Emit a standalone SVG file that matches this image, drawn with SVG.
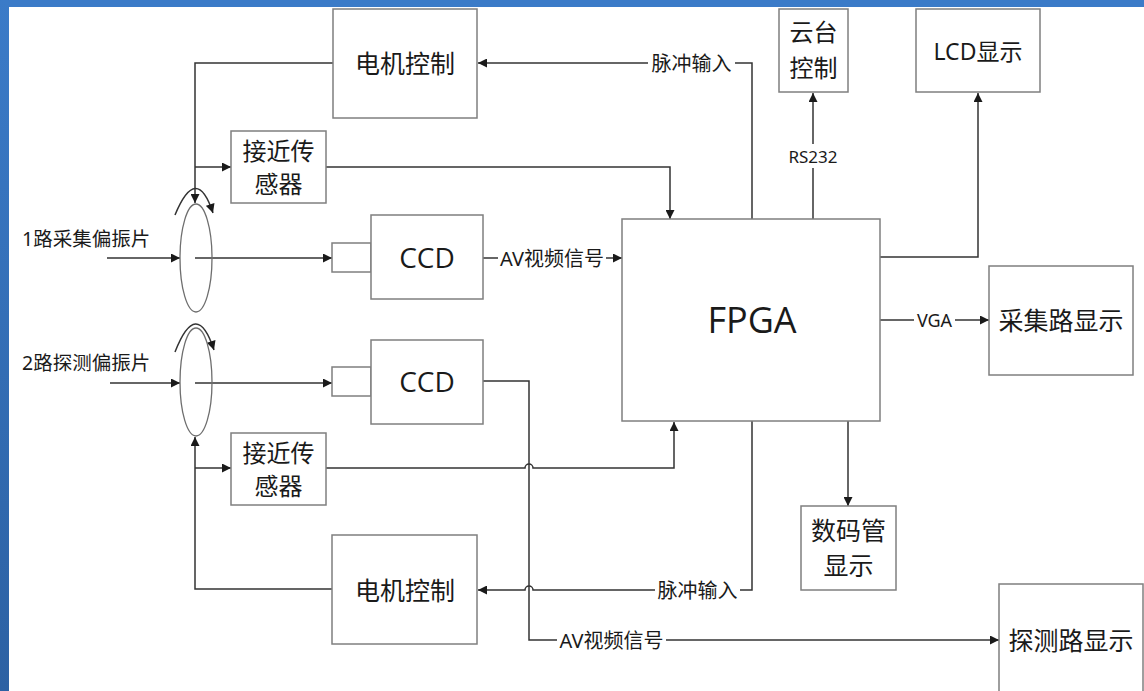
<svg xmlns="http://www.w3.org/2000/svg" width="1144" height="691" viewBox="0 0 1144 691">
<style>
.box{fill:#fff;stroke:#7f7f7f;stroke-width:1.5}
.ln{fill:none;stroke:#333;stroke-width:1.5}
.ell{fill:none;stroke:#6e6e6e;stroke-width:1.3}
.t{font-family:"Noto Sans","Noto Sans CJK SC",sans-serif;fill:#1a1a1a;text-anchor:middle;dominant-baseline:central}
.big{font-size:25px}
.mid{font-size:24px}
.lab{font-size:20px}
.lat{font-family:"Open Sans","Noto Sans",sans-serif;fill:#1a1a1a;text-anchor:middle}
</style>
<defs>
<marker id="arr" viewBox="0 0 10 10" refX="10" refY="5" markerWidth="10" markerHeight="9" markerUnits="userSpaceOnUse" orient="auto"><path d="M0,0 L10,5 L0,10 z" fill="#1a1a1a"/></marker>
<linearGradient id="lg" x1="0" y1="0" x2="0" y2="1"><stop offset="0" stop-color="#3b7bc8"/><stop offset="1" stop-color="#2c61a3"/></linearGradient>
</defs>
<rect x="0" y="0" width="1144" height="691" fill="#fff"/>
<rect x="0" y="0" width="1144" height="7" fill="#3b7bc8"/>
<rect x="0" y="0" width="9" height="691" fill="url(#lg)"/>

<g id="connectors">
<!-- motor1 to ellipse1 and sensor1 -->
<path class="ln" d="M333,63 H195 V203" marker-end="url(#arr)"/>
<path class="ln" d="M195,167 H231" marker-end="url(#arr)"/>
<!-- sensor1 to FPGA -->
<path class="ln" d="M326,167 H670 V219" marker-end="url(#arr)"/>
<!-- input 1 -->
<path class="ln" d="M107,258 H180" marker-end="url(#arr)"/>
<path class="ln" d="M195,258 H332" marker-end="url(#arr)"/>
<!-- AV1 -->
<path class="ln" d="M483,258 H498"/>
<path class="ln" d="M606,258 H622" marker-end="url(#arr)"/>
<!-- pulse top -->
<path class="ln" d="M752,219 V63 H735"/>
<path class="ln" d="M648,63 H478" marker-end="url(#arr)"/>
<!-- RS232 -->
<path class="ln" d="M813,219 V168"/>
<path class="ln" d="M813,144 V93" marker-end="url(#arr)"/>
<!-- LCD -->
<path class="ln" d="M880,257 H978 V93" marker-end="url(#arr)"/>
<!-- VGA -->
<path class="ln" d="M880,320 H914"/>
<path class="ln" d="M955,320 H989" marker-end="url(#arr)"/>
<!-- to 数码管 -->
<path class="ln" d="M848,421 V506" marker-end="url(#arr)"/>
<!-- input 2 -->
<path class="ln" d="M110,383 H180" marker-end="url(#arr)"/>
<path class="ln" d="M195,383 H332" marker-end="url(#arr)"/>
<!-- motor2 to ellipse2 and sensor2 -->
<path class="ln" d="M332,589 H195 V437" marker-end="url(#arr)"/>
<path class="ln" d="M195,468 H231" marker-end="url(#arr)"/>
<!-- sensor2 to FPGA with hop -->
<path class="ln" d="M326,468 H525 A4,4 0 0 1 533,468 H674 V422" marker-end="url(#arr)"/>
<!-- pulse bottom with hop -->
<path class="ln" d="M752,421 V590 H740"/>
<path class="ln" d="M655,590 H533 A4,4 0 0 0 525,590 H478" marker-end="url(#arr)"/>
<!-- AV2 -->
<path class="ln" d="M483,381 H529 V640 H557"/>
<path class="ln" d="M666,640 H999" marker-end="url(#arr)"/>
<!-- rotation arcs -->
<path class="ln" d="M175,215 Q196.5,163 213,213" marker-end="url(#arr)"/>
<path class="ln" d="M175,352 Q196.5,297 214,350" marker-end="url(#arr)"/>
</g>

<g id="labels">
<text class="t lab" x="691.5" y="63">脉冲输入</text>
<text class="t lab" x="697.5" y="590">脉冲输入</text>
<text class="t lab" x="552" y="258">AV视频信号</text>
<text class="t lab" x="611.5" y="640">AV视频信号</text>
<text class="t" style="font-size:17px" x="813" y="156">RS232</text>
<text class="t" style="font-size:18px" x="934.5" y="320">VGA</text>
<text class="t" style="font-size:19.5px;text-anchor:start" x="22" y="238">1路采集偏振片</text>
<text class="t" style="font-size:19.5px;text-anchor:start" x="22" y="362">2路探测偏振片</text>
</g>

<g id="polarizer1"><ellipse class="ell" cx="196" cy="258" rx="16" ry="54"/></g>
<g id="polarizer2"><ellipse class="ell" cx="196" cy="382" rx="16" ry="54"/></g>

<g id="motor1"><rect class="box" x="333" y="9" width="144" height="109"/><text class="t big" x="405" y="63">电机控制</text></g>
<g id="sensor1"><rect class="box" x="231" y="131" width="95" height="72"/><text class="t mid" x="278.5" y="150">接近传</text><text class="t mid" x="278.5" y="183">感器</text></g>
<g id="ccd1"><rect class="box" x="332" y="243" width="39" height="29"/><rect class="box" x="371" y="215" width="112" height="84"/><text class="lat" style="font-size:28px" x="427" y="268">CCD</text></g>
<g id="ccd2"><rect class="box" x="332" y="367" width="39" height="29"/><rect class="box" x="371" y="340" width="112" height="84"/><text class="lat" style="font-size:28px" x="427" y="392">CCD</text></g>
<g id="sensor2"><rect class="box" x="231" y="433" width="95" height="72"/><text class="t mid" x="278.5" y="452">接近传</text><text class="t mid" x="278.5" y="485">感器</text></g>
<g id="motor2"><rect class="box" x="332" y="535" width="145" height="109"/><text class="t big" x="405" y="590">电机控制</text></g>
<g id="fpga"><rect class="box" x="622" y="219" width="258" height="202"/><text class="lat" style="font-size:36px" x="752" y="333">FPGA</text></g>
<g id="yuntai"><rect class="box" x="779" y="9" width="69" height="83"/><text class="t mid" x="813.5" y="31">云台</text><text class="t mid" x="813.5" y="67">控制</text></g>
<g id="lcd"><rect class="box" x="916" y="9" width="124" height="83"/><text class="t" style="font-size:23px" x="978" y="51">LCD显示</text></g>
<g id="caiji"><rect class="box" x="989" y="266" width="144" height="109"/><text class="t big" x="1061" y="320">采集路显示</text></g>
<g id="shumaguan"><rect class="box" x="801" y="506" width="95" height="84"/><text class="t big" x="848.5" y="530">数码管</text><text class="t big" x="848.5" y="565">显示</text></g>
<g id="tance"><rect class="box" x="999" y="584" width="144" height="120"/><text class="t big" x="1071" y="640">探测路显示</text></g>
</svg>
